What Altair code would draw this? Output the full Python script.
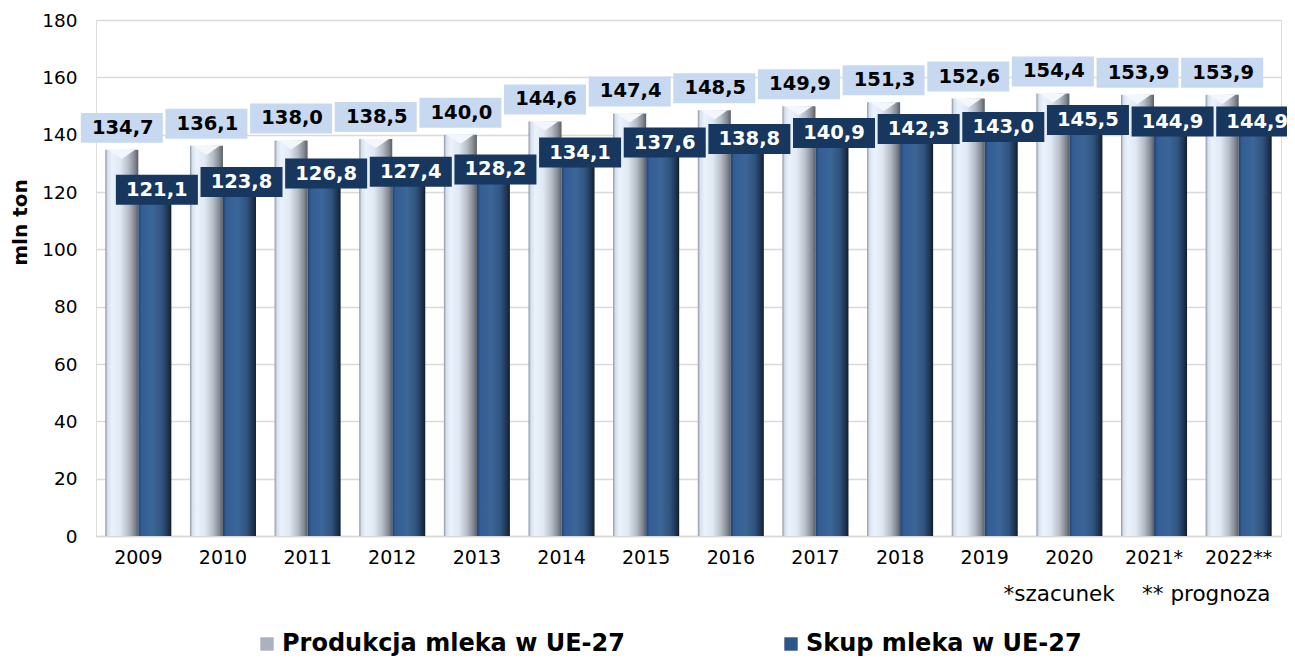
import altair as alt
import pandas as pd

years = ["2009", "2010", "2011", "2012", "2013", "2014", "2015", "2016",
         "2017", "2018", "2019", "2020", "2021*", "2022**"]
produkcja = [134.7, 136.1, 138.0, 138.5, 140.0, 144.6, 147.4, 148.5,
             149.9, 151.3, 152.6, 154.4, 153.9, 153.9]
skup = [121.1, 123.8, 126.8, 127.4, 128.2, 134.1, 137.6, 138.8,
        140.9, 142.3, 143.0, 145.5, 144.9, 144.9]
series_names = ["Produkcja mleka w UE-27", "Skup mleka w UE-27"]
footnote = "*szacunek\u00a0\u00a0\u00a0\u00a0** prognoza"

rows = []
for y, p, s in zip(years, produkcja, skup):
    rows.append({"year": y, "series": series_names[0], "value": p,
                 "label": f"{p:.1f}".replace(".", ",")})
    rows.append({"year": y, "series": series_names[1], "value": s,
                 "label": f"{s:.1f}".replace(".", ",")})
df = pd.DataFrame(rows)

FONT = "DejaVu Sans"

prod_grad = alt.Gradient(
    gradient="linear", x1=0, x2=1, y1=0, y2=0,
    stops=[alt.GradientStop(color="#8a929c", offset=0),
           alt.GradientStop(color="#d6e0ec", offset=0.07),
           alt.GradientStop(color="#eaf2fc", offset=0.2),
           alt.GradientStop(color="#e0e8f3", offset=0.45),
           alt.GradientStop(color="#b6bdc7", offset=0.7),
           alt.GradientStop(color="#868c95", offset=0.88),
           alt.GradientStop(color="#5a5f66", offset=1)])
skup_grad = alt.Gradient(
    gradient="linear", x1=0, x2=1, y1=0, y2=0,
    stops=[alt.GradientStop(color="#22426b", offset=0),
           alt.GradientStop(color="#335d95", offset=0.1),
           alt.GradientStop(color="#3b6698", offset=0.45),
           alt.GradientStop(color="#30547f", offset=0.72),
           alt.GradientStop(color="#1e3452", offset=0.9),
           alt.GradientStop(color="#121d2c", offset=1)])

x_enc = alt.X("year:N", sort=years,
              scale=alt.Scale(paddingInner=0.22, paddingOuter=0.11),
              axis=alt.Axis(labelAngle=0, labelFontSize=19, labelColor="#000000",
                            labelFont=FONT, labelPadding=12, ticks=False,
                            domainColor="#d9d9d9", domainWidth=1.5,
                            title=footnote, titleFont=FONT, titleFontSize=21.5,
                            titleFontWeight="normal", titleColor="#000000",
                            titleAlign="right", titleBaseline="alphabetic",
                            titleX=1174, titleY=64))
xo_enc = alt.XOffset("series:N", sort=series_names,
                     scale=alt.Scale(domain=series_names, paddingInner=0, paddingOuter=0))
y_enc = alt.Y("value:Q", scale=alt.Scale(domain=[0, 180], nice=False),
              axis=alt.Axis(values=list(range(0, 181, 20)), labelFontSize=18.5,
                            labelColor="#000000", labelFont=FONT, labelPadding=19,
                            ticks=False, domain=False, grid=True,
                            gridColor="#d9d9d9", gridWidth=1.5,
                            title="mln ton", titleFont=FONT, titleFontSize=20,
                            titleFontWeight="bold", titleColor="#000000",
                            titleAngle=-90, titleAlign="center", titleBaseline="middle",
                            titleX=-76, titleY=202))

base = alt.Chart(df).encode(x=x_enc, xOffset=xo_enc, y=y_enc)
is_prod = alt.datum.series == series_names[0]
is_skup = alt.datum.series == series_names[1]

bars_prod = base.transform_filter(is_prod).mark_bar(color=prod_grad)
bars_skup = base.transform_filter(is_skup).mark_bar(color=skup_grad)

vtop = "M-0.8,0 L0.8,0 L0,0.55 Z"
tops_prod = base.transform_filter(is_prod).mark_point(
    shape=vtop, size=33 * 33, filled=True, opacity=1, color="#f3f7fc", strokeWidth=0)
tops_skup = base.transform_filter(is_skup).mark_point(
    shape=vtop, size=33 * 33, filled=True, opacity=1, color="#5a87c0", strokeWidth=0)

legend_layer = base.mark_point(shape="square", filled=True, opacity=0, size=1).encode(
    color=alt.Color("series:N", sort=series_names,
                    scale=alt.Scale(domain=series_names, range=["#aab2bd", "#2c5789"]),
                    legend=alt.Legend(orient="none", legendX=159, legendY=612,
                                      direction="horizontal", title=None,
                                      symbolType="square", symbolSize=180,
                                      symbolOpacity=1, symbolStrokeWidth=0,
                                      labelFont=FONT, labelFontSize=24,
                                      labelFontWeight="bold", labelColor="#000000",
                                      labelLimit=0, labelOffset=3,
                                      columnPadding=154, padding=0))
)

prod_box_shape = "M-1,-0.902 L1,-0.902 L1,-0.171 L-1,-0.171 Z"
skup_box_shape = "M-0.95,-0.342 L1.05,-0.342 L1.05,0.39 L-0.95,0.39 Z"

boxes_prod = base.transform_filter(is_prod).mark_point(
    shape=prod_box_shape, size=82 * 82, filled=True, opacity=1,
    color="#c6d9f1", strokeWidth=0)
text_prod = base.transform_filter(is_prod).mark_text(
    dy=-22, dx=1, font=FONT, fontSize=19.5, fontWeight="bold", color="#000000",
    baseline="middle").encode(text="label:N")

boxes_skup = base.transform_filter(is_skup).mark_point(
    shape=skup_box_shape, size=82 * 82, filled=True, opacity=1,
    color="#17375e", strokeWidth=0)
text_skup = base.transform_filter(is_skup).mark_text(
    dy=1, dx=2, font=FONT, fontSize=19.5, fontWeight="bold", color="#ffffff",
    baseline="middle").encode(text="label:N")

chart = alt.layer(
    bars_prod, bars_skup, tops_prod, tops_skup, legend_layer,
    boxes_prod, text_prod, boxes_skup, text_skup
).properties(
    width=1185, height=516,
    autosize=alt.AutoSizeParams(type="none"),
    padding={"left": 88, "top": 12, "right": 6, "bottom": 123},
).configure_view(stroke=None).configure(font=FONT)

chart.save("out.html", embed_options={"renderer": "svg", "actions": False})
